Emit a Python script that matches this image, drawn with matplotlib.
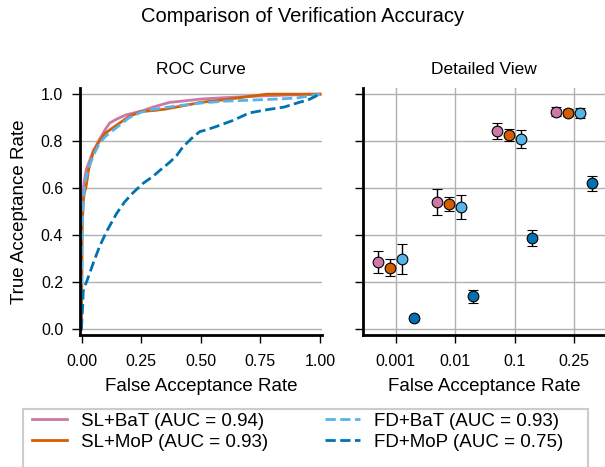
"""Comparison of verification accuracy: ROC curves and detailed TAR at fixed FAR."""

import matplotlib
matplotlib.use('Agg')
import matplotlib.pyplot as plt
from matplotlib.patches import Rectangle
import numpy as np

plt.rcParams['font.family'] = ['Liberation Sans', 'DejaVu Sans']

# ROC curves (FAR, TAR)
far_sl_bat = [0, 0.002, 0.005, 0.01, 0.02, 0.035, 0.05, 0.077, 0.1, 0.118, 0.15, 0.188, 0.22, 0.258,
              0.3, 0.37, 0.42, 0.5, 0.6, 0.77, 0.9, 1.0]
tar_sl_bat = [0, 0.45, 0.56, 0.62, 0.68, 0.72, 0.76, 0.81, 0.85, 0.877, 0.895, 0.912, 0.92, 0.93,
              0.945, 0.965, 0.97, 0.979, 0.985, 0.993, 0.997, 1.0]
far_sl_mop = [0, 0.002, 0.008, 0.012, 0.018, 0.03, 0.05, 0.075, 0.1, 0.15, 0.2, 0.25, 0.3, 0.35,
              0.45, 0.5, 0.6, 0.7, 0.78, 0.9, 1.0]
tar_sl_mop = [0, 0.42, 0.55, 0.58, 0.6, 0.68, 0.756, 0.8, 0.834, 0.87, 0.905, 0.926, 0.93, 0.936,
              0.955, 0.965, 0.976, 0.99, 1.0, 1.0, 1.0]
far_fd_bat = [0, 0.002, 0.006, 0.012, 0.02, 0.035, 0.05, 0.075, 0.1, 0.15, 0.2, 0.25, 0.3, 0.4,
              0.5, 0.6, 0.75, 0.9, 1.0]
tar_fd_bat = [0, 0.4, 0.52, 0.6, 0.65, 0.7, 0.74, 0.79, 0.82, 0.86, 0.9, 0.923, 0.935, 0.95,
              0.962, 0.97, 0.976, 0.983, 1.0]
far_fd_mop = [0, 0.002, 0.005, 0.007, 0.012, 0.021, 0.035, 0.049, 0.075, 0.105, 0.146, 0.18, 0.216,
              0.258, 0.3, 0.328, 0.37, 0.4, 0.425, 0.46, 0.495, 0.53, 0.565, 0.635, 0.704, 0.774,
              0.85, 0.913, 0.95, 1.0]
tar_fd_mop = [0, 0.05, 0.1, 0.16, 0.18, 0.2, 0.24, 0.28, 0.35, 0.415, 0.49, 0.54, 0.58,
              0.62, 0.65, 0.675, 0.71, 0.74, 0.775, 0.81, 0.84, 0.85, 0.862, 0.888, 0.92, 0.933,
              0.945, 0.965, 0.975, 1.0]

# detailed view: mean TAR and error half-width at each FAR operating point
far_labels = ['0.001', '0.01', '0.1', '0.25']
methods = ['SL+BaT', 'SL+MoP', 'FD+BaT', 'FD+MoP']
auc = [0.94, 0.93, 0.93, 0.75]
tar_mean = {
    'SL+BaT': [0.286, 0.542, 0.842, 0.925],
    'SL+MoP': [0.261, 0.532, 0.827, 0.920],
    'FD+BaT': [0.298, 0.520, 0.808, 0.920],
    'FD+MoP': [0.047, 0.139, 0.387, 0.620],
}
tar_err = {
    'SL+BaT': [0.048, 0.056, 0.035, 0.020],
    'SL+MoP': [0.037, 0.031, 0.026, 0.015],
    'FD+BaT': [0.062, 0.050, 0.038, 0.022],
    'FD+MoP': [0.010, 0.028, 0.035, 0.033],
}

colors = ['#CC79A7', '#D55E00', '#56B4E9', '#0072B2']
styles = ['-', '-', '--', '--']
roc = [(far_sl_bat, tar_sl_bat), (far_sl_mop, tar_sl_mop),
       (far_fd_bat, tar_fd_bat), (far_fd_mop, tar_fd_mop)]


def style_axis(ax):
    for side in ('top', 'right'):
        ax.spines[side].set_visible(False)
    for side in ('left', 'bottom'):
        ax.spines[side].set_linewidth(2.0)
    ax.tick_params(direction='out', length=6, width=1.0, pad=6, labelsize=11.5)
    ax.tick_params(axis='x', pad=8)
    ax.set_axisbelow(True)


W, H = 605, 467
fig = plt.figure(figsize=(W / 100, H / 100), dpi=100)
ax1 = fig.add_axes([0.132, 0.283, 0.400, 0.528])
ax2 = fig.add_axes([0.600, 0.283, 0.400, 0.528], sharey=ax1)

for (fx, ty), c, ls, m, a in zip(roc, colors, styles, methods, auc):
    ax1.plot(fx, ty, color=c, ls=ls, lw=2.0, label=f'{m} (AUC = {a:.2f})')
ax1.set_xlim(-0.007, 1.008)
ax1.set_ylim(-0.025, 1.025)
ax1.set_xticks([0, 0.25, 0.5, 0.75, 1.0])
ax1.set_yticks([0, 0.2, 0.4, 0.6, 0.8, 1.0])
ax1.yaxis.grid(True, color='#b0b0b0', lw=1.0)
ax1.set_title('ROC Curve', fontsize=12.5, pad=10)
ax1.set_xlabel('False Acceptance Rate', fontsize=13.5, labelpad=6)
ax1.set_ylabel('True Acceptance Rate', fontsize=13.5, labelpad=9)
style_axis(ax1)

x = np.arange(len(far_labels))
offsets = [-0.3, -0.1, 0.1, 0.3]
for m, c, off in zip(methods, colors, offsets):
    ax2.errorbar(x + off, tar_mean[m], yerr=tar_err[m], fmt='o', color='black',
                 mfc=c, mec='black', mew=0.8, ms=7.7, ecolor='black', elinewidth=1.0,
                 capsize=3.6, capthick=1.0, zorder=3)
ax2.set_xticks(x)
ax2.set_xticklabels(far_labels)
ax2.set_xlim(-0.55, 3.52)
ax2.grid(True, color='#b0b0b0', lw=1.0)
ax2.tick_params(axis='y', labelleft=False)
ax2.set_title('Detailed View', fontsize=12.5, pad=10)
ax2.set_xlabel('False Acceptance Rate', fontsize=13.5, labelpad=6)
style_axis(ax2)

fig.suptitle('Comparison of Verification Accuracy', fontsize=14.5, y=0.985)

handles, labels = ax1.get_legend_handles_labels()
fig.legend(handles, labels, loc='upper left', bbox_to_anchor=(28 / W, 1 - 409 / H),
           ncol=2, fontsize=13.5, frameon=False, handlelength=1.9, handletextpad=0.75,
           columnspacing=3.0, borderaxespad=0.0, labelspacing=0.2, borderpad=0.2)
# legend frame runs past the content on the right and off the bottom edge
fig.add_artist(Rectangle((23 / W, -2 / H), (588 - 23) / W, (H - 409 + 2) / H,
                         transform=fig.transFigure, fill=False,
                         edgecolor='#cccccc', lw=1.5))

fig.savefig('out.png', dpi=100)
